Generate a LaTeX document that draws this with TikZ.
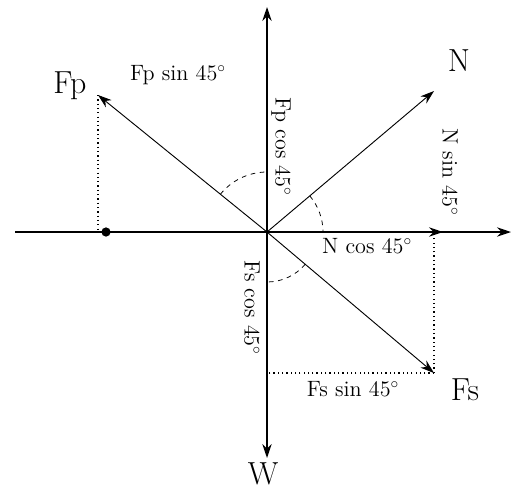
\documentclass[tikz,border=0pt]{standalone}
\usepackage{tikz}
\usetikzlibrary{arrows.meta, positioning, calc}
\tikzset{
    % coordinate axes, drawn heavier
    axisline/.style={line width=1.2pt},
    % arrow tip used on axes and forces
    tip/.style={-{Stealth[length=9pt, width=6pt]}},
    % force vectors from the origin
    force/.style={tip, line width=0.6pt},
    % projection of a force onto an axis
    proj/.style={dotted, line width=0.8pt},
    % angle mark between a force and an axis
    anglemark/.style={dashed, line width=0.5pt},
    % names of the forces
    fname/.style={font=\huge, inner sep=1pt},
    % component labels
    comp/.style={font=\Large, inner sep=1pt},
}

\begin{document}
\begin{tikzpicture}[x=0.65pt, y=-0.65pt]
    \useasboundingbox (0,0) rectangle (516,494);

    % ---- origin and axes ----
    \coordinate (O)  at (267,232);
    \coordinate (xl) at (15,232);
    \coordinate (xr) at (511,232);
    \coordinate (yt) at (267,7);
    \coordinate (yb) at (267,458);
    \coordinate (ncx) at (443,232);

    \draw[axisline] (xl) -- (O);
    \draw[axisline, tip] (O) -- (xr);
    \draw[axisline, tip] (O) -- (ncx);
    \draw[axisline, tip] (O) -- (yt);
    \draw[axisline, tip] (O) -- (yb);

    % ---- forces ----
    \coordinate (fp) at (98,95);
    \coordinate (n)  at (434,91);
    \coordinate (fs) at (434,373);
    \foreach \f in {fp,n,fs}{ \draw[force] (O) -- (\f); }

    % ---- projections ----
    \draw[proj] (fp) -- (fp |- O);
    \draw[proj] (fs) -- (fs |- O);
    \draw[proj] (fs) -- (fs -| O);
    \node[circle, fill=black, inner sep=0pt, minimum size=6pt] (fpx) at (106,232) {};

    % ---- angles ----
    \draw[anglemark] (O) ++(219:60) arc[start angle=219, end angle=270, radius=60];
    \draw[anglemark] (O) ++(319.8:56) arc[start angle=319.8, end angle=360, radius=56];
    \draw[anglemark] (O) ++(40.2:50) arc[start angle=40.2, end angle=90, radius=50];

    % ---- names ----
    \node[fname] (fpname) at (70,86)  {Fp};
    \node[fname] (nname)  at (459,61) {N};
    \node[fname] (fsname) at (465,390) {Fs};
    \node[fname] (wname)  at (263,474) {W};

    % ---- components ----
    \node[comp] (fpsin) at (178,75) {Fp sin 45$^\circ$};
    \node[comp, rotate=-90] (fpcos) at (281,147) {Fp cos 45$^\circ$};
    \node[comp, rotate=-90] (nsin) at (450,172) {N sin 45$^\circ$};
    \node[comp] (ncos) at (367,246) {N cos 45$^\circ$};
    \node[comp, rotate=-90] (fscos) at (252,308) {Fs cos 45$^\circ$};
    \node[comp] (fssin) at (353,389) {Fs sin 45$^\circ$};

\end{tikzpicture}
\end{document}
